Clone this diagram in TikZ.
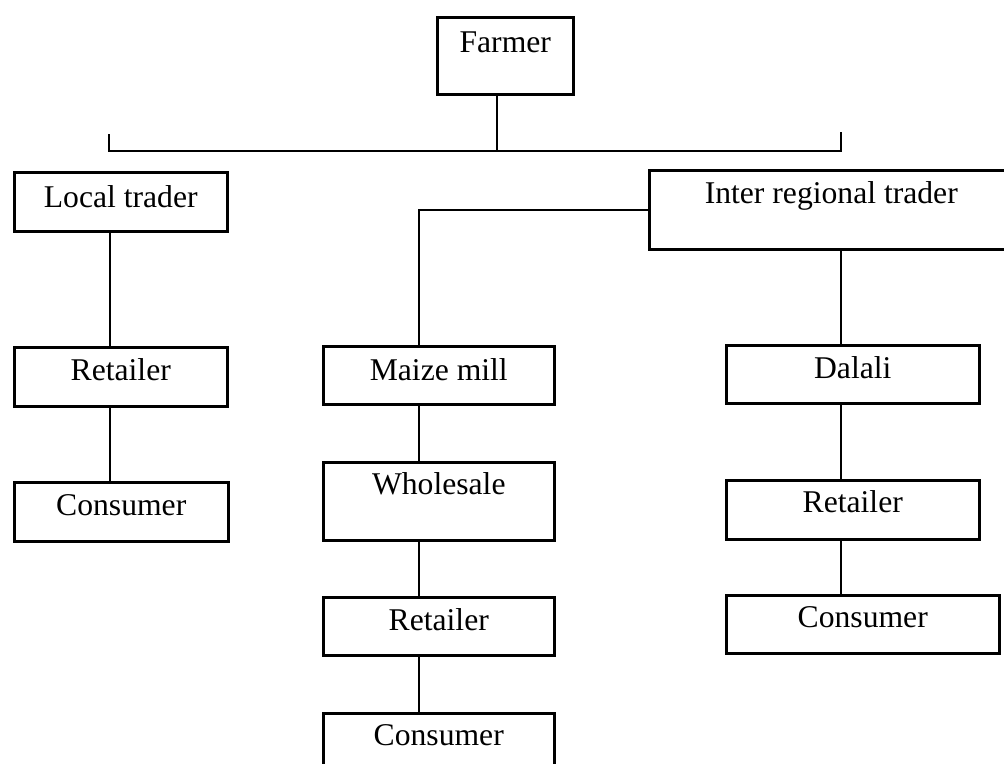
\documentclass[tikz,border=0pt]{standalone}
\usepackage{fontspec}
\setmainfont{Liberation Serif}
\usetikzlibrary{calc}
\newdimen\px \px=0.025cm

\begin{document}
\begin{tikzpicture}[x=\px, y=-\px,
  box/.style n args={3}{rectangle, draw, line width=1.8pt,
    anchor=north west, inner xsep=0pt, inner ysep=0pt,
    minimum width=#1\px, text height=#2\px, text depth=#3\px,
    font=\fontsize{22.5}{26}\selectfont},
  link/.style={line width=1.3pt},
  thinlink/.style={line width=0.8pt},
  bus/.style={line width=1.8pt}
]
  \clip (0,0) rectangle (1004,763);

  \node[box={136}{35}{42}] (farmer) at (436,16) {Farmer};

  \node[box={213}{35}{24}] (local) at (13,171) {Local trader};
  \node[box={364}{33}{46}] (inter) at (648,169) {Inter regional trader};

  \node[box={213}{33}{26}] (ret1) at (13,346) {Retailer};
  \node[box={214}{33}{26}] (con1) at (13,481) {Consumer};

  \node[box={231}{34}{24}] (mill)  at (322,345) {Maize mill};
  \node[box={231}{32}{46}] (whole) at (322,461) {Wholesale};
  \node[box={231}{33}{25}] (ret2)  at (322,596) {Retailer};
  \node[box={231}{32}{40}] (con2)  at (322,712) {Consumer};

  \node[box={253}{33}{25}] (dalali) at (725,344) {Dalali};
  \node[box={253}{32}{27}] (ret3)   at (725,479) {Retailer};
  \node[box={273}{32}{26}] (con3)   at (725,594) {Consumer};

  % columns and bus
  \coordinate (colL) at (110,0);
  \coordinate (colM) at (419,0);
  \coordinate (colR) at (841,0);
  \coordinate (colF) at (497,0);
  \coordinate (busL) at (109,151);
  \coordinate (busR) at (841,151);

  \draw[bus] ($(busL)+(0,-17)$) -- (busL) -- (busR) -- ($(busR)+(0,-19)$);
  \draw[link] (farmer.south -| colF) -- (busL -| colF);

  \draw[link] (local.south -| colL) -- (ret1.north -| colL);
  \draw[thinlink] (ret1.south -| colL) -- (con1.north -| colL);

  \draw[link] (inter.west) -| (mill.north -| colM);
  \foreach \a/\b in {mill/whole, whole/ret2, ret2/con2}{
    \draw[thinlink] (\a.south -| colM) -- (\b.north -| colM);
  }

  \draw[thinlink] (inter.south -| colR) -- (dalali.north -| colR);
  \draw[link] (dalali.south -| colR) -- (ret3.north -| colR);
  \draw[thinlink] (ret3.south -| colR) -- (con3.north -| colR);
\end{tikzpicture}
\end{document}
